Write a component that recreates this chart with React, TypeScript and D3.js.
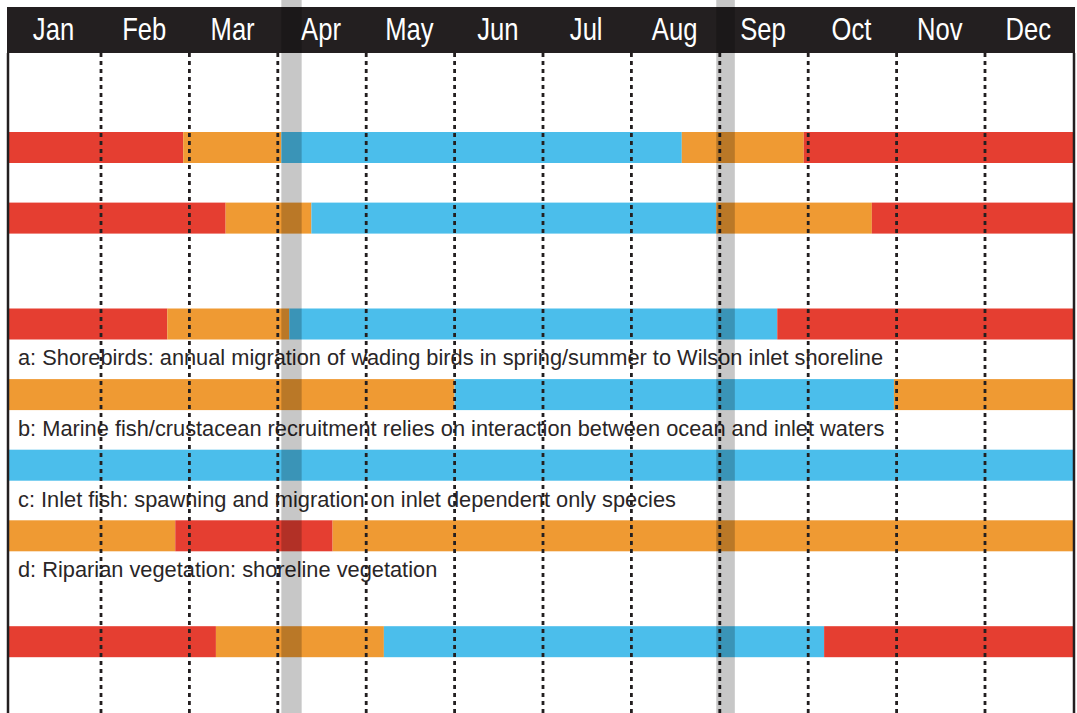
import React, { useEffect, useRef } from 'react';
import * as d3 from 'd3';

// month labels across the header
const months = ['Jan', 'Feb', 'Mar', 'Apr', 'May', 'Jun', 'Jul', 'Aug', 'Sep', 'Oct', 'Nov', 'Dec'];

// row slot (vertical order) of each bar row
const rowSlots = [0, 2, 5, 7, 9, 11, 14];

// change points of each row, in months from Jan 1
const rowBreaks = [
  [0, 1.93, 3.04, 7.57, 8.95, 12],
  [0, 2.41, 3.38, 7.96, 9.72, 12],
  [0, 1.75, 3.13, 8.65, 12],
  [0, 5.0, 9.97, 12],
  [0, 12],
  [0, 1.84, 3.62, 12],
  [0, 2.3, 4.2, 9.18, 12],
];

// state between change points
const rowStates = [
  ['red', 'orange', 'blue', 'orange', 'red'],
  ['red', 'orange', 'blue', 'orange', 'red'],
  ['red', 'orange', 'blue', 'red'],
  ['orange', 'blue', 'orange'],
  ['blue'],
  ['orange', 'red', 'orange'],
  ['red', 'orange', 'blue', 'red'],
];

const captionSlots = [6, 8, 10, 12];
const captions = [
  'a: Shorebirds: annual migration of wading birds in spring/summer to Wilson inlet shoreline',
  'b: Marine fish/crustacean recruitment relies on interaction between ocean and inlet waters',
  'c: Inlet fish: spawning and migration on inlet dependent only species',
  'd: Riparian vegetation: shoreline vegetation',
];

// grey shaded periods (months)
const shadeStart = [3.04, 7.96];
const shadeEnd = [3.27, 8.17];

const App: React.FC = () => {
  const svgRef = useRef<SVGSVGElement>(null);

  useEffect(() => {
    if (!svgRef.current) return;

    const width = 1077;
    const height = 713;
    const frameLeft = 8;
    const frameRight = 1074;
    const headerTop = 7;
    const headerBottom = 53;
    const barH = 31;

    const svg = d3.select(svgRef.current);
    svg.selectAll('*').remove();

    const x = d3.scaleLinear().domain([0, 12]).range([12.6, 1073.4]);
    const y = d3.scaleLinear().domain([0, 1]).range([132, 167.3]);
    const color = d3.scaleOrdinal<string, string>()
      .domain(['red', 'orange', 'blue'])
      .range(['#e53e31', '#ef9a33', '#4bbeeb']);

    const sx = (m: number) => (m <= 0 ? frameLeft : Math.min(x(m), frameRight));

    svg.append('rect')
      .attr('width', width).attr('height', height).attr('fill', '#fff');

    // bars
    rowSlots.forEach((slot, i) => {
      const segs = rowStates[i].map((s, j) => ({ s, a: rowBreaks[i][j], b: rowBreaks[i][j + 1] }));
      svg.append('g')
        .selectAll('rect')
        .data(segs)
        .join('rect')
        .attr('x', d => sx(d.a))
        .attr('y', y(slot))
        .attr('width', d => sx(d.b) - sx(d.a))
        .attr('height', barH)
        .attr('fill', d => color(d.s));
    });

    // captions
    svg.append('g')
      .selectAll('text')
      .data(captions)
      .join('text')
      .attr('x', 18)
      .attr('y', (d, i) => y(captionSlots[i]) + 21.5)
      .attr('fill', '#2a2627')
      .style('font-family', '"Liberation Sans", Arial, sans-serif')
      .style('font-size', '21.8px')
      .text(d => d);

    // month dividers
    svg.append('g')
      .selectAll('line')
      .data(d3.range(1, 12))
      .join('line')
      .attr('x1', d => x(d)).attr('x2', d => x(d))
      .attr('y1', headerBottom).attr('y2', height)
      .attr('stroke', '#231f20')
      .attr('stroke-width', 2.8)
      .attr('stroke-dasharray', '4 4');

    // frame sides
    svg.append('line')
      .attr('x1', frameLeft).attr('x2', frameLeft)
      .attr('y1', headerBottom).attr('y2', height)
      .attr('stroke', '#231f20').attr('stroke-width', 2.5);
    svg.append('line')
      .attr('x1', frameRight).attr('x2', frameRight)
      .attr('y1', headerBottom).attr('y2', height)
      .attr('stroke', '#231f20').attr('stroke-width', 2.5);

    // header
    svg.append('rect')
      .attr('x', frameLeft - 1).attr('y', headerTop)
      .attr('width', frameRight - frameLeft + 2).attr('height', headerBottom - headerTop)
      .attr('fill', '#231f20');

    // condensed month labels
    svg.append('g')
      .selectAll('text')
      .data(months)
      .join('text')
      .attr('transform', (d, i) => `translate(${(sx(i) + sx(i + 1)) / 2 - 1},40) scale(0.8,1)`)
      .attr('text-anchor', 'middle')
      .attr('fill', '#fff')
      .style('font-family', '"Liberation Sans", Arial, sans-serif')
      .style('font-size', '32px')
      .text(d => d);

    // shaded periods on top
    svg.append('g')
      .selectAll('rect')
      .data(shadeStart)
      .join('rect')
      .attr('x', d => x(d))
      .attr('y', 0)
      .attr('width', (d, i) => x(shadeEnd[i]) - x(d))
      .attr('height', height)
      .attr('fill', '#000')
      .attr('fill-opacity', 0.22);
  }, []);

  return (
    <svg
      ref={svgRef}
      width={1077}
      height={713}
      style={{ position: 'absolute', left: 0, top: 0, display: 'block' }}
    />
  );
};

export default App;
